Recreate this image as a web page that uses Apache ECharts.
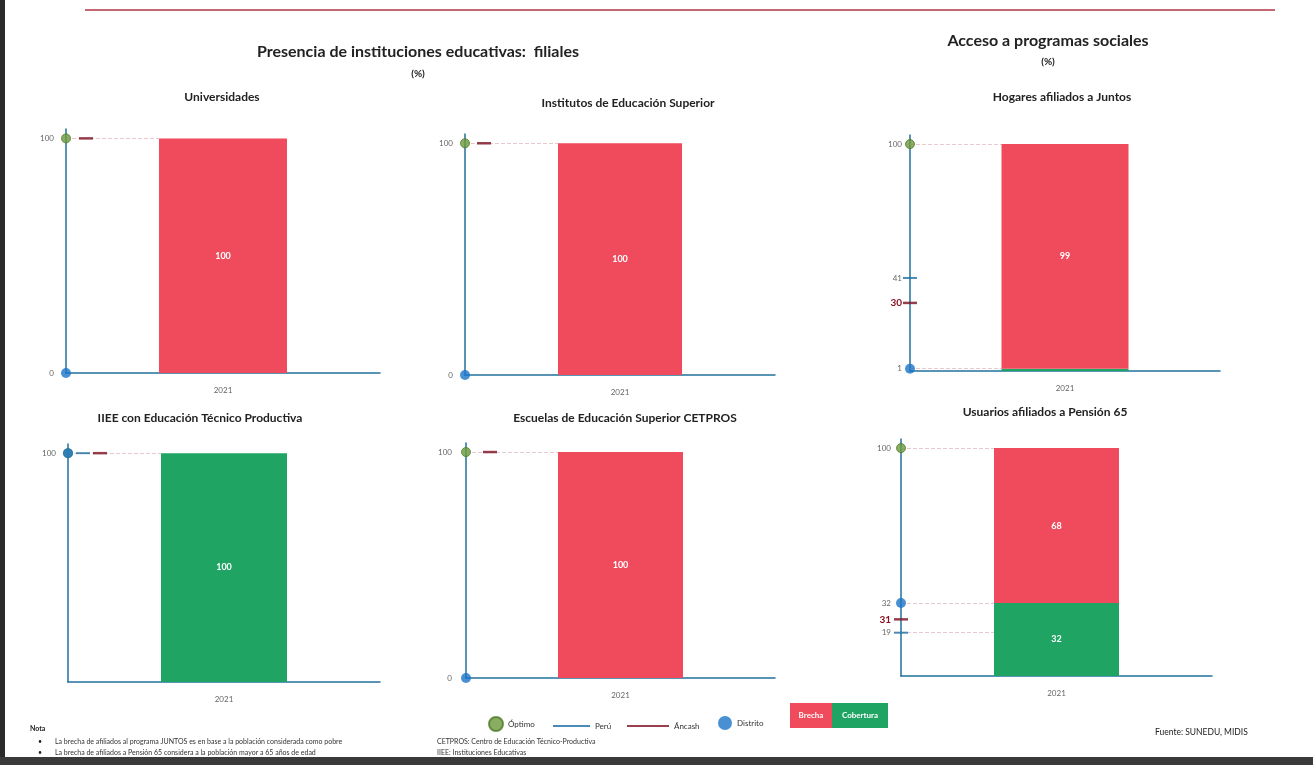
<!DOCTYPE html>
<html>
<head>
<meta charset="utf-8">
<script src="https://cdn.jsdelivr.net/npm/echarts@6/dist/echarts.min.js"></script>
<style>
html,body{margin:0;padding:0;background:#fff;}
#chart{width:1313px;height:765px;}
</style>
</head>
<body>
<div id="chart"></div>
<script>
// ---------- DATA ----------
const years = ['2021'];
const panelTitles = [
  'Universidades',
  'Institutos de Educación Superior',
  'Hogares afiliados a Juntos',
  'IIEE con Educación Técnico Productiva',
  'Escuelas de Educación Superior CETPROS',
  'Usuarios afiliados a Pensión 65'
];
const optimo    = [100, 100, 100, 100, 100, 100];
const peru      = [null, null, 41, 100, null, 19];
const ancash    = [100, 100, 30, 100, 100, 31];
const distrito  = [0, 0, 1, 100, 0, 32];
const cobertura = [0, 0, 1, 100, 0, 32];
const brecha    = [100, 100, 99, 0, 100, 68];

// ---------- LAYOUT / STYLE ----------
const layout = [
  {left:66,  right:933, top:129, bottom:392, barWidth:128, margin:12, peruDx:15, ancDx:20, ancDy:0, tx:222, ty:97},
  {left:465, right:538, top:134, bottom:390, barWidth:124, margin:12, peruDx:15, ancDx:19, ancDy:0, tx:628, ty:103},
  {left:910, right:93,  top:135, bottom:394, barWidth:127, margin:8,  peruDx:0,  ancDx:0,  ancDy:0, tx:1062, ty:97},
  {left:68,  right:933, top:444, bottom:83,  barWidth:126, margin:12, peruDx:15, ancDx:32, ancDy:0, tx:200, ty:418},
  {left:466, right:538, top:443, bottom:87,  barWidth:125, margin:14, peruDx:15, ancDx:24, ancDy:0, tx:625, ty:418},
  {left:901, right:101, top:439, bottom:89,  barWidth:125, margin:10, peruDx:0,  ancDx:0,  ancDy:14, tx:1045, ty:412}
];
const C = {
  brecha:'#f04b5c', cobertura:'#1fa463', axis:'#22729a',
  optimo:'#6b9a3c', distrito:'#1b74c8', peru:'#1d6fa5', ancash:'#7d1020'
};
const FONT = 'Lato, "Open Sans", sans-serif';

const grid = [], xAxis = [], yAxis = [], series = [];
layout.forEach((L, i) => {
  grid.push({left:L.left, right:L.right, top:L.top, bottom:L.bottom});
  xAxis.push({
    type:'category', gridIndex:i, data:years,
    axisLine:{lineStyle:{color:C.axis, width:1.5}},
    axisTick:{show:false},
    axisLabel:{color:'#666', fontSize:8, margin:13, fontFamily:FONT}
  });
  xAxis.push({type:'value', gridIndex:i, min:0, max:1, show:false});
  const marks = [optimo[i], peru[i], ancash[i], distrito[i]].filter(v => v !== null);
  const uniq = [...new Set(marks)];
  const ancOnly = ancash[i] !== null && [optimo[i], peru[i], distrito[i]].indexOf(ancash[i]) < 0;
  yAxis.push({
    type:'value', gridIndex:i, min:0, max:104,
    splitLine:{show:false},
    axisTick:{show:false},
    axisLine:{show:true, lineStyle:{color:C.axis, width:1.5}},
    axisLabel:{
      customValues:uniq, margin:L.margin, fontFamily:FONT,
      formatter:function(v){
        if (ancOnly && v === ancash[i]) {
          return L.ancDy ? '{ad|' + v + '}' : '{a|' + v + '}';
        }
        return '{g|' + v + '}';
      },
      rich:{
        g:{color:'#666', fontSize:8, fontFamily:FONT},
        a:{color:'#8b1020', fontSize:10, fontWeight:'bold', fontFamily:FONT},
        ad:{color:'#8b1020', fontSize:10, fontWeight:'bold', fontFamily:FONT, padding:[L.ancDy*2,0,0,0]}
      }
    }
  });
  const xi = i * 2, yi = i;
  const gw = 1313 - L.left - L.right;
  const barEdge = 0.5 - L.barWidth / (2 * gw);   // left edge of the bar on the hidden 0..1 axis
  series.push({
    name:'Cobertura', type:'bar', xAxisIndex:xi, yAxisIndex:yi, stack:'s'+i, z:5,
    barWidth:L.barWidth, data:[cobertura[i]],
    itemStyle:{color:C.cobertura},
    label:{show:true, position:'inside', color:'#fff', fontWeight:'bold', fontSize:9, fontFamily:FONT,
      formatter:p => p.value >= 5 ? p.value : ''}
  });
  series.push({
    name:'Brecha', type:'bar', xAxisIndex:xi, yAxisIndex:yi, stack:'s'+i, z:5,
    barWidth:L.barWidth, data:[brecha[i]],
    itemStyle:{color:C.brecha},
    label:{show:true, position:'inside', color:'#fff', fontWeight:'bold', fontSize:9, fontFamily:FONT,
      formatter:p => p.value >= 5 ? p.value : ''}
  });
  const guide = v => ({silent:true, symbol:'none', label:{show:false},
    lineStyle:{color:'#e8c9cd', type:'dashed', width:1},
    data: v === null ? [] : [[{coord:[0, v]}, {coord:[barEdge, v]}]]});
  if (peru[i] !== null) series.push({
    name:'Perú', type:'scatter', xAxisIndex:xi+1, yAxisIndex:yi, z:8,
    symbol:'rect', symbolSize:[14,2], symbolOffset:[L.peruDx,0],
    itemStyle:{color:C.peru}, data:[[0, peru[i]]], markLine:guide(i===5?peru[i]:null)
  });
  series.push({
    name:'Áncash', type:'scatter', xAxisIndex:xi+1, yAxisIndex:yi, z:9,
    symbol:'rect', symbolSize:[14,2.5], symbolOffset:[L.ancDx, L.ancDy],
    itemStyle:{color:C.ancash}, data:[[0, ancash[i]]]
  });
  series.push({
    name:'Óptimo', type:'scatter', xAxisIndex:xi+1, yAxisIndex:yi, z:10,
    symbol:'circle', symbolSize:9,
    itemStyle:{color:C.optimo, borderColor:'#4d7a26', borderWidth:1}, data:[[0, optimo[i]]],
    markLine:guide(optimo[i])
  });
  series.push({
    name:'Distrito', type:'scatter', xAxisIndex:xi+1, yAxisIndex:yi, z:11,
    symbol:'circle', symbolSize:10,
    itemStyle:{color:C.distrito}, data:[[0, distrito[i]]],
    markLine:guide(i===5 || i===2 ? distrito[i] : null)
  });
});

const txt = (x, y, text, font, fill, align) => ({
  type:'text', x:x, y:y, silent:true,
  style:{text:text, font:font, fill:fill || '#222', align:align || 'center', verticalAlign:'middle'}
});

const graphic = [
  {type:'rect', shape:{x:0, y:0, width:5, height:765}, style:{fill:'#2a2a2a'}},
  {type:'rect', shape:{x:0, y:757, width:1313, height:8}, style:{fill:'#3a3a3a'}},
  {type:'line', shape:{x1:85, y1:10, x2:1275, y2:10}, style:{stroke:'#b03545', lineWidth:1.5}},
  txt(418, 52, 'Presencia de instituciones educativas:  filiales', 'bold 16px ' + FONT),
  txt(418, 74, '(%)', 'bold 10px ' + FONT),
  txt(1048, 41, 'Acceso a programas sociales', 'bold 16px ' + FONT),
  txt(1048, 62, '(%)', 'bold 10px ' + FONT),
  {type:'rect', shape:{x:790, y:703, width:42, height:25}, style:{fill:C.brecha}},
  {type:'rect', shape:{x:832, y:703, width:56, height:25}, style:{fill:C.cobertura}},
  txt(811, 715, 'Brecha', 'bold 8px ' + FONT, '#fff'),
  txt(860, 715, 'Cobertura', 'bold 8px ' + FONT, '#fff'),
  txt(30, 729, 'Nota', 'bold 7px ' + FONT, '#222', 'left'),
  txt(38, 742, '•', '7px ' + FONT, '#222', 'left'),
  txt(55, 742, 'La brecha de afiliados al programa JUNTOS es en base a la población considerada como pobre', '7px ' + FONT, '#333', 'left'),
  txt(38, 753, '•', '7px ' + FONT, '#222', 'left'),
  txt(55, 753, 'La brecha de afiliados a Pensión 65 considera a la población mayor a 65 años de edad', '7px ' + FONT, '#333', 'left'),
  txt(437, 742, 'CETPROS: Centro de Educación Técnico-Productiva', '7px ' + FONT, '#333', 'left'),
  txt(437, 753, 'IIEE: Instituciones Educativas', '7px ' + FONT, '#333', 'left'),
  txt(1155, 732, 'Fuente: SUNEDU, MIDIS', '8.5px ' + FONT, '#222', 'left')
];
layout.forEach((L, i) => graphic.push(txt(L.tx, L.ty, panelTitles[i], 'bold 12px ' + FONT)));

const legTxt = {color:'#333', fontSize:8, fontFamily:FONT};
const legend = [
  {data:[{name:'Óptimo', icon:'circle'}], left:483, top:711, itemWidth:14, itemHeight:14, textStyle:legTxt, selectedMode:false},
  {data:[{name:'Perú', icon:'rect'}], left:548, top:717, itemWidth:37, itemHeight:2, textStyle:legTxt, selectedMode:false},
  {data:[{name:'Áncash', icon:'rect'}], left:622, top:717, itemWidth:42, itemHeight:2, textStyle:legTxt, selectedMode:false},
  {data:[{name:'Distrito', icon:'circle'}], left:713, top:711, itemWidth:14, itemHeight:14, textStyle:legTxt, selectedMode:false}
];

const chart = echarts.init(document.getElementById('chart'), null, {renderer:'canvas'});
chart.setOption({
  animation:false,
  backgroundColor:'#ffffff',
  grid, xAxis, yAxis, series, legend, graphic
});
</script>
</body>
</html>
